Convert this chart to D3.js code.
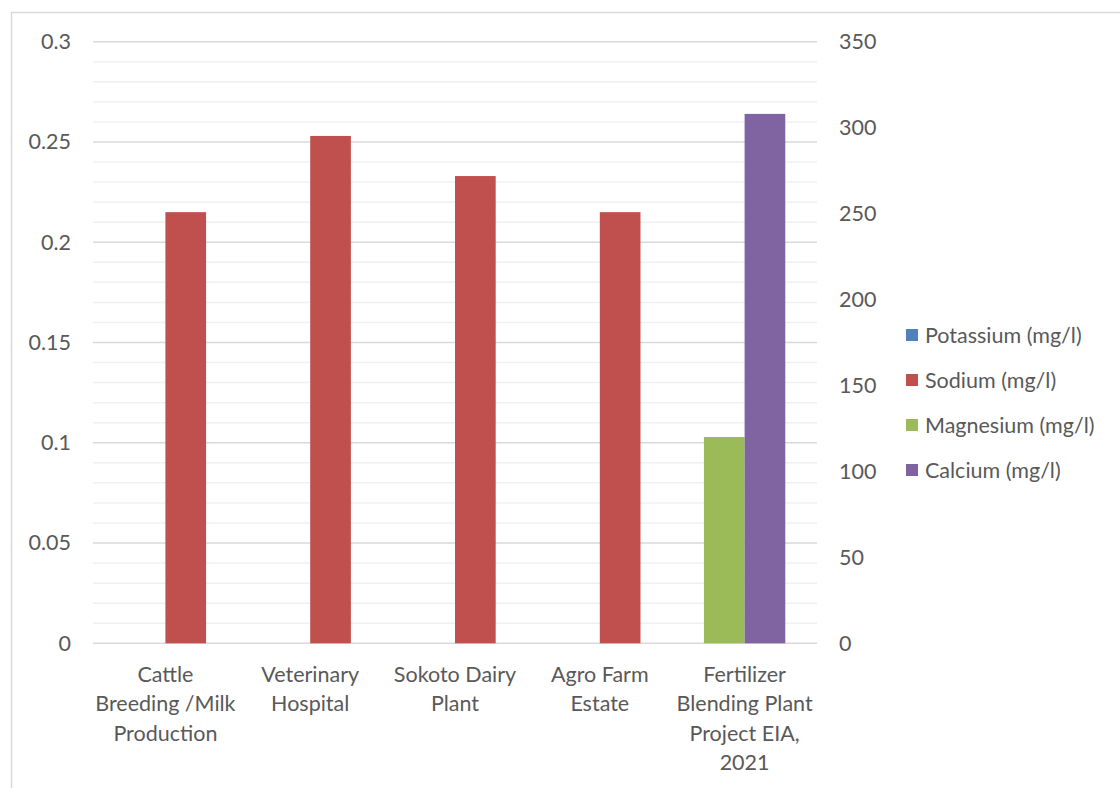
<!DOCTYPE html>
<html>
<head>
<meta charset="utf-8">
<script src="https://cdn.jsdelivr.net/npm/d3@7"></script>
<style>
  html, body { margin: 0; padding: 0; background: #fff; }
  svg { display: block; font-family: Lato, "Open Sans", sans-serif; }
</style>
</head>
<body>
<svg id="chart" width="1120" height="788"></svg>
<script>
// Sites sampled (line breaks mark how each axis label wraps)
const categories = [
  "Cattle\nBreeding /Milk\nProduction",
  "Veterinary\nHospital",
  "Sokoto Dairy\nPlant",
  "Agro Farm\nEstate",
  "Fertilizer\nBlending Plant\nProject EIA,\n2021"
];

// Series on the left (primary) axis
const potassium = [0, 0, 0, 0, 0];
const sodium = [0.215, 0.253, 0.233, 0.215, 0];

// Series on the right (secondary) axis
const magnesium = [0, 0, 0, 0, 120];
const calcium = [0, 0, 0, 0, 308];

const leftTicks = [0, 0.05, 0.1, 0.15, 0.2, 0.25, 0.3];
const rightTicks = [0, 50, 100, 150, 200, 250, 300, 350];

const seriesNames = ["Potassium (mg/l)", "Sodium (mg/l)", "Magnesium (mg/l)", "Calcium (mg/l)"];
const seriesColors = ["#4F81BD", "#C0504D", "#9BBB59", "#8064A2"];

const svg = d3.select("#chart");
const textColor = "#595959";
const fontSize = "21.5px";

// chart frame (runs off the right and bottom edges)
svg.append("rect")
  .attr("x", 11.5).attr("y", 12.5)
  .attr("width", 1130).attr("height", 800)
  .attr("fill", "none").attr("stroke", "#d9d9d9").attr("stroke-width", 1.5);

const plot = { left: 93, right: 817, top: 41.7, bottom: 643.3 };

const x = d3.scaleBand().domain(d3.range(categories.length))
  .range([plot.left, plot.right]).padding(0);
const slot = d3.scaleBand().domain([0, 1])
  .range([0, x.bandwidth()]).paddingInner(0).paddingOuter(0.78);

const yL = d3.scaleLinear().domain([0, 0.3]).range([plot.bottom, plot.top]);
const yR = d3.scaleLinear().domain([0, 350]).range([plot.bottom, plot.top]);

// minor gridlines
const minor = d3.range(0, 0.3001, 0.01).filter(v => Math.abs(Math.round(v * 20) - v * 20) > 1e-6);
svg.append("g").selectAll("line").data(minor).join("line")
  .attr("x1", plot.left).attr("x2", plot.right)
  .attr("y1", d => yL(d)).attr("y2", d => yL(d))
  .attr("stroke", "#f0f0f0").attr("stroke-width", 1.5);

// major gridlines
svg.append("g").selectAll("line").data(leftTicks).join("line")
  .attr("x1", plot.left).attr("x2", plot.right)
  .attr("y1", d => yL(d)).attr("y2", d => yL(d))
  .attr("stroke", "#d9d9d9").attr("stroke-width", 1.5);

// bars: each axis group lays out its own two slots
const groups = [
  { values: potassium, color: seriesColors[0], slot: 0, scale: yL },
  { values: sodium, color: seriesColors[1], slot: 1, scale: yL },
  { values: magnesium, color: seriesColors[2], slot: 0, scale: yR },
  { values: calcium, color: seriesColors[3], slot: 1, scale: yR }
];
groups.forEach(g => {
  svg.append("g").selectAll("rect").data(g.values).join("rect")
    .attr("x", (d, i) => x(i) + slot(g.slot))
    .attr("width", slot.bandwidth())
    .attr("y", d => g.scale(d))
    .attr("height", d => g.scale(0) - g.scale(d))
    .attr("fill", g.color);
});

// left axis
const leftAxis = svg.append("g")
  .attr("transform", `translate(${plot.left},0)`)
  .call(d3.axisLeft(yL).tickValues(leftTicks).tickSize(0).tickPadding(22).tickFormat(d => d3.format("")(+d.toFixed(2))));
leftAxis.select(".domain").remove();
leftAxis.selectAll("text").attr("fill", textColor).style("font-size", fontSize).style("font-family", "Lato, sans-serif");

// right axis
const rightAxis = svg.append("g")
  .attr("transform", `translate(${plot.right},0)`)
  .call(d3.axisRight(yR).tickValues(rightTicks).tickSize(0).tickPadding(22));
rightAxis.select(".domain").remove();
rightAxis.selectAll("text").attr("fill", textColor).style("font-size", fontSize).style("font-family", "Lato, sans-serif");

// category labels
const catG = svg.append("g");
categories.forEach((c, i) => {
  const t = catG.append("text")
    .attr("x", x(i) + x.bandwidth() / 2)
    .attr("y", 682)
    .attr("text-anchor", "middle")
    .attr("fill", textColor)
    .style("font-size", fontSize);
  c.split("\n").forEach((line, k) => {
    t.append("tspan")
      .attr("x", x(i) + x.bandwidth() / 2)
      .attr("y", 682 + k * 29.3)
      .text(line);
  });
});

// legend
const legend = svg.append("g");
const legendY = d3.scaleLinear().domain([0, 3]).range([335, 470]);
seriesNames.forEach((name, i) => {
  legend.append("rect")
    .attr("x", 906).attr("y", legendY(i) - 6)
    .attr("width", 12).attr("height", 12)
    .attr("fill", seriesColors[i]);
  legend.append("text")
    .attr("x", 925).attr("y", legendY(i))
    .attr("dy", "0.35em")
    .attr("fill", textColor)
    .style("font-size", fontSize)
    .text(name);
});
</script>
</body>
</html>
